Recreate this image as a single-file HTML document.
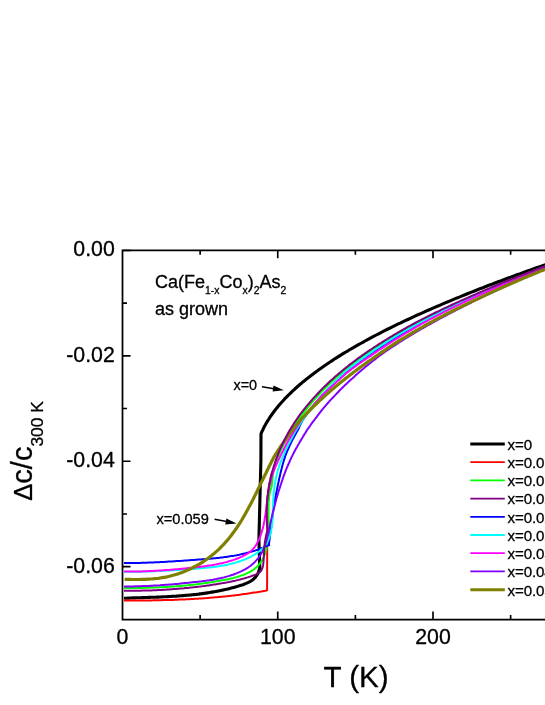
<!DOCTYPE html>
<html><head><meta charset="utf-8"><title>chart</title>
<style>
html,body{margin:0;padding:0;background:#fff;overflow:hidden}
body{width:545px;height:705px}
svg{display:block;will-change:transform;font-family:"Liberation Sans",sans-serif;fill:#000}
text{stroke:#000;stroke-width:.3px;stroke-linejoin:round}
</style></head><body>
<svg width="545" height="705" viewBox="0 0 545 705">
<rect width="545" height="705" fill="#fff"/>
<g>
<path d="M124.0 598.3L125.2 598.2L126.5 598.2L127.7 598.1L128.9 598.1L130.1 598.0L131.3 598.0L132.5 597.9L133.8 597.9L135.0 597.9L136.2 597.8L137.4 597.8L138.7 597.7L139.9 597.7L141.1 597.7L142.3 597.6L143.5 597.6L144.8 597.5L146.0 597.5L147.2 597.5L148.5 597.4L149.7 597.4L150.9 597.3L152.1 597.3L153.4 597.2L154.6 597.2L155.8 597.2L157.1 597.1L158.3 597.1L159.5 597.0L160.8 597.0L162.0 596.9L163.2 596.8L164.4 596.8L165.7 596.7L166.9 596.7L168.1 596.6L169.4 596.5L170.6 596.5L171.8 596.4L173.1 596.3L174.3 596.3L175.5 596.2L176.8 596.1L178.0 596.0L179.2 595.9L180.4 595.8L181.7 595.7L182.9 595.6L184.1 595.5L185.4 595.4L186.6 595.3L187.8 595.2L189.0 595.1L190.3 595.0L191.5 594.9L192.7 594.8L193.9 594.6L195.1 594.5L196.4 594.4L197.6 594.2L198.8 594.1L200.0 593.9L201.2 593.8L202.4 593.6L203.7 593.4L204.9 593.3L206.1 593.1L207.3 592.9L208.5 592.7L209.7 592.5L210.9 592.3L212.1 592.1L213.3 591.9L214.5 591.7L215.7 591.5L216.9 591.3L218.1 591.1L219.3 590.8L220.5 590.6L221.7 590.3L222.9 590.1L224.1 589.8L225.3 589.5L226.5 589.3L227.7 589.0L228.8 588.7L230.0 588.4L231.2 588.1L232.4 587.8L233.6 587.5L234.7 587.2L235.9 586.8L237.1 586.5L238.2 586.1L239.4 585.8L240.6 585.4L241.7 585.1L242.9 584.7L244.0 584.3L245.1 583.8L246.2 583.4L247.3 582.9L248.4 582.4L249.4 581.9L250.5 581.3L251.4 580.7L252.4 580.0L253.3 579.3L254.1 578.5L255.0 577.7L255.7 576.8L256.4 575.9L257.1 574.9L257.7 573.8L258.3 572.7L258.7 571.5L259.1 570.2L259.5 568.8L259.8 567.3L258.9 540.0L260.9 460.0L261.0 433.5L261.2 433.3L261.3 433.2L261.4 432.9L261.6 432.4L261.8 431.9L262.1 431.2L262.5 430.5L262.9 429.7L263.3 428.8L263.7 427.9L264.2 426.9L264.8 425.9L265.3 424.9L265.9 423.8L266.6 422.7L267.2 421.6L267.9 420.4L268.7 419.3L269.4 418.1L270.2 416.9L271.0 415.7L271.9 414.5L272.8 413.2L273.7 412.0L274.6 410.8L275.6 409.5L276.6 408.3L277.6 407.0L278.6 405.8L279.7 404.5L280.8 403.2L281.9 402.0L283.1 400.7L284.2 399.4L285.4 398.2L286.7 396.9L287.9 395.6L289.2 394.4L290.5 393.1L291.8 391.8L293.1 390.6L294.5 389.3L295.9 388.0L297.3 386.8L298.8 385.5L300.2 384.2L301.7 383.0L303.2 381.7L304.8 380.5L306.3 379.2L307.9 378.0L309.5 376.7L311.1 375.5L312.8 374.2L314.4 373.0L316.1 371.7L317.8 370.5L319.5 369.2L321.3 368.0L323.1 366.7L324.9 365.5L326.7 364.3L328.5 363.0L330.4 361.8L332.2 360.6L334.1 359.3L336.0 358.1L338.0 356.9L339.9 355.6L341.9 354.4L343.9 353.2L345.9 352.0L348.0 350.8L350.0 349.5L352.1 348.3L354.2 347.1L356.3 345.9L358.5 344.7L360.6 343.5L362.8 342.3L365.0 341.0L367.2 339.8L369.5 338.6L371.7 337.4L374.0 336.2L376.3 335.0L378.6 333.8L380.9 332.6L383.3 331.4L385.6 330.2L388.0 329.0L390.4 327.8L392.8 326.6L395.3 325.4L397.7 324.2L400.2 323.1L402.7 321.9L405.2 320.7L407.8 319.5L410.3 318.3L412.9 317.1L415.5 315.9L418.1 314.7L420.7 313.6L423.4 312.4L426.0 311.2L428.7 310.0L431.4 308.8L434.1 307.6L436.8 306.5L439.6 305.3L442.3 304.1L445.1 302.9L447.9 301.8L450.7 300.6L453.6 299.4L456.4 298.2L459.3 297.1L462.2 295.9L465.1 294.7L468.0 293.5L470.9 292.4L473.9 291.2L476.9 290.0L479.9 288.8L482.9 287.7L485.9 286.5L488.9 285.3L492.0 284.2L495.1 283.0L498.2 281.8L501.3 280.7L504.4 279.5L507.5 278.3L510.7 277.2L513.9 276.0L517.0 274.8L520.3 273.7L523.5 272.5L526.7 271.3L530.0 270.2L533.2 269.0L536.5 267.8L539.8 266.7L543.2 265.5L546.5 264.3L549.8 263.2L553.2 262.0L556.6 260.8L560.0 259.7" fill="none" stroke="#000000" stroke-width="3.1" stroke-linejoin="round"/>
<path d="M124.0 600.5L125.4 600.5L126.9 600.5L128.3 600.5L129.8 600.5L131.2 600.5L132.7 600.5L134.1 600.5L135.6 600.5L137.0 600.5L138.5 600.5L139.9 600.5L141.4 600.5L142.8 600.5L144.3 600.5L145.7 600.4L147.2 600.4L148.6 600.4L150.1 600.4L151.5 600.4L153.0 600.3L154.4 600.3L155.9 600.3L157.3 600.3L158.8 600.2L160.2 600.2L161.7 600.2L163.1 600.1L164.6 600.1L166.0 600.1L167.5 600.0L168.9 600.0L170.3 599.9L171.8 599.9L173.2 599.9L174.7 599.8L176.1 599.7L177.6 599.7L179.0 599.6L180.5 599.6L181.9 599.5L183.4 599.4L184.8 599.4L186.3 599.3L187.7 599.2L189.2 599.2L190.6 599.1L192.1 599.0L193.5 598.9L195.0 598.8L196.4 598.8L197.8 598.7L199.3 598.6L200.7 598.5L202.2 598.4L203.6 598.3L205.1 598.2L206.5 598.1L208.0 597.9L209.4 597.8L210.8 597.7L212.3 597.6L213.7 597.5L215.2 597.3L216.6 597.2L218.1 597.1L219.5 596.9L220.9 596.8L222.4 596.7L223.8 596.5L225.3 596.4L226.7 596.2L228.1 596.1L229.6 595.9L231.0 595.7L232.5 595.6L233.9 595.4L235.3 595.2L236.8 595.1L238.2 594.9L239.6 594.7L241.1 594.5L242.5 594.3L243.9 594.1L245.4 593.9L246.8 593.7L248.2 593.5L249.7 593.3L251.1 593.1L252.5 592.8L254.0 592.6L255.4 592.4L256.8 592.2L258.3 591.9L259.7 591.7L261.1 591.4L262.6 591.2L264.0 590.9L265.4 590.7L266.8 590.4L267.1 590.3L267.2 545.0L267.6 508.0L266.9 505.9L267.0 503.7L267.1 501.5L267.3 499.3L267.5 497.1L267.8 494.9L268.0 492.7L268.3 490.5L268.7 488.4L269.0 486.2L269.4 484.1L269.8 481.9L270.3 479.8L270.7 477.7L271.2 475.6L271.7 473.5L272.3 471.5" fill="none" stroke="#ff0000" stroke-width="2.0" stroke-linejoin="round"/>
<path d="M272.3 472.0L272.9 469.9L273.5 467.9L274.1 465.8L274.8 463.8L275.4 461.8L276.1 459.8L276.9 457.8L277.6 455.8L278.4 453.8L279.2 451.8L280.0 449.9L280.9 447.9L281.8 446.0L282.7 444.1L283.6 442.2L284.5 440.3L285.5 438.4L286.5 436.6L287.5 434.7L288.5 432.8L289.5 431.0L290.6 429.2L291.7 427.4L292.8 425.7L293.9 423.9L295.1 422.2L296.2 420.5L297.4 418.8L298.6 417.1L299.8 415.4L301.1 413.7L302.3 412.1L303.6 410.4L304.9 408.8L306.2 407.2L307.5 405.6L308.9 404.0L310.2 402.4L311.6 400.8L313.0 399.2L314.4 397.6L315.8 396.1L317.3 394.5L318.7 393.0L320.2 391.4L321.6 389.9L323.1 388.4L324.6 386.9L326.2 385.5L327.7 384.0L329.2 382.5L330.8 381.1L332.4 379.7L334.0 378.2L335.5 376.8L337.2 375.4L338.8 374.1L340.4 372.7L342.1 371.3L343.7 370.0L345.4 368.6L347.1 367.3L348.7 365.9L350.4 364.6L352.2 363.3L353.9 362.0L355.6 360.7L357.3 359.4L359.1 358.1L360.9 356.9L362.6 355.6L364.4 354.4L366.2 353.1L368.0 351.9L369.8 350.7L371.6 349.5L373.4 348.2L375.3 347.0L377.1 345.9L378.9 344.7L380.8 343.5L382.6 342.3L384.5 341.2L386.4 340.0L388.3 338.8L390.1 337.7L392.0 336.6L393.9 335.4L395.8 334.3L397.7 333.2L399.6 332.1L401.6 331.0L403.5 329.9L405.4 328.8L407.3 327.7L409.3 326.6L411.2 325.6L413.2 324.5L415.1 323.5L417.1 322.4L419.0 321.4L421.0 320.4L422.9 319.4L424.9 318.4L426.9 317.4L428.8 316.4L430.8 315.4L432.8 314.4L434.7 313.5L436.7 312.5L438.7 311.6L440.7 310.6L442.7 309.7L444.6 308.7L446.6 307.8L448.6 306.9L450.6 306.0L452.6 305.0L454.6 304.1L456.5 303.2L458.5 302.3L460.5 301.4L462.5 300.5L464.5 299.7L466.5 298.8L468.5 297.9L470.5 297.0L472.5 296.1L474.5 295.3L476.5 294.4L478.4 293.5L480.4 292.7L482.4 291.8L484.4 290.9L486.4 290.1L488.4 289.2L490.4 288.4L492.4 287.5L494.4 286.7L496.4 285.9L498.3 285.0L500.3 284.2L502.3 283.4L504.3 282.6L506.3 281.8L508.3 281.0L510.3 280.2L512.2 279.4L514.2 278.7L516.2 277.9L518.2 277.1L520.1 276.3L522.1 275.5L524.1 274.8L526.0 274.0L528.0 273.2L530.0 272.4L531.9 271.7L533.9 270.9L535.9 270.1L537.8 269.4L539.8 268.6L541.7 267.8L543.7 267.1L545.6 266.3L547.5 265.6L549.5 264.8L551.4 264.0L553.3 263.3L555.3 262.5L557.2 261.8L559.1 261.0" fill="none" stroke="#ff0000" stroke-width="1.0" stroke-linejoin="round"/>
<path d="M124.0 588.1L125.4 588.1L126.7 588.1L128.1 588.1L129.5 588.1L130.8 588.0L132.2 588.0L133.6 588.0L135.0 588.0L136.4 588.0L137.8 588.0L139.2 587.9L140.6 587.9L142.0 587.9L143.4 587.8L144.7 587.8L146.1 587.8L147.5 587.7L149.0 587.7L150.4 587.6L151.8 587.6L153.2 587.5L154.6 587.5L156.0 587.4L157.4 587.4L158.8 587.3L160.2 587.3L161.6 587.2L162.9 587.1L164.3 587.1L165.7 587.0L167.1 586.9L168.5 586.8L169.9 586.7L171.3 586.6L172.6 586.5L174.0 586.4L175.4 586.3L176.8 586.2L178.1 586.1L179.5 586.0L180.9 585.9L182.2 585.8L183.6 585.7L184.9 585.5L186.3 585.4L187.7 585.3L189.0 585.1L190.4 585.0L191.8 584.8L193.1 584.7L194.5 584.5L195.8 584.4L197.2 584.2L198.6 584.0L199.9 583.8L201.3 583.7L202.7 583.5L204.1 583.3L205.4 583.1L206.8 582.9L208.2 582.7L209.6 582.5L211.0 582.3L212.4 582.0L213.8 581.8L215.2 581.6L216.6 581.3L218.0 581.1L219.4 580.8L220.8 580.6L222.2 580.3L223.7 580.1L225.1 579.8L226.5 579.5L227.9 579.2L229.4 578.9L230.8 578.6L232.2 578.2L233.6 577.9L235.0 577.5L236.4 577.2L237.7 576.8L239.1 576.3L240.4 575.9L241.8 575.4L243.1 575.0L244.3 574.5L245.6 573.9L246.8 573.4L248.0 572.8L249.2 572.2L250.4 571.6L251.5 570.9L252.6 570.2L253.6 569.5L254.7 568.7L255.7 567.9L256.6 567.1L257.5 566.2L258.4 565.3L259.2 564.4L260.0 563.4L260.7 562.4L261.4 561.3L262.1 560.3L262.7 559.1L263.3 558.0L263.8 556.8L264.3 555.6L264.8 554.4L265.2 553.1L265.6 551.8L266.0 550.5L266.3 549.2L266.6 547.8L266.9 546.5L267.2 545.1L267.4 543.7L267.6 542.3L267.8 540.8L267.9 539.4L268.1 538.0L268.2 536.5L268.3 535.1L268.4 533.6L268.4 532.2L268.5 530.7L268.5 529.2L268.5 527.8L268.5 526.3L268.6 524.9L268.5 523.4L268.5 522.0L268.5 520.5L268.5 519.1L268.5 517.6L268.5 516.2L268.5 514.7L268.5 513.3L268.4 511.9L268.5 510.5L268.5 509.1L268.5 507.7L268.5 506.3L268.6 504.9L268.6 503.5L268.7 502.1L268.8 500.8L268.9 499.4L269.1 498.1L269.2 496.7L269.4 495.4L269.6 494.1L269.9 492.8L270.2 491.5L270.5 490.2L270.8 488.9L271.2 487.7L271.6 486.4L273.5 469.9L274.1 467.8L274.8 465.8L275.4 463.8L276.1 461.8L276.9 459.8L277.6 457.9L278.4 455.9L279.2 454.0L280.0 452.0L280.9 450.1L281.8 448.2L282.7 446.3L283.6 444.4L284.5 442.5L285.5 440.7L286.5 438.8L287.5 437.0L288.5 435.1L289.5 433.3L290.6 431.5L291.7 429.8L292.8 428.0L293.9 426.3L295.1 424.6L296.2 422.9L297.4 421.2L298.6 419.5L299.8 417.9L301.1 416.2L302.3 414.5L303.6 412.8L304.9 411.1L306.2 409.4L307.5 407.8L308.9 406.1L310.2 404.5L311.6 402.8L313.0 401.2L314.4 399.6L315.8 398.0L317.3 396.4L318.7 394.8L320.2 393.2L321.6 391.6L323.1 390.1L324.6 388.5L326.2 387.0L327.7 385.4L329.2 383.9L330.8 382.4L332.4 380.9L334.0 379.5L335.5 378.0L337.2 376.5L338.8 375.1L340.4 373.7L342.1 372.2L343.7 370.8L345.4 369.4L347.1 368.1L348.7 366.7L350.4 365.4L352.2 364.1L353.9 362.8L355.6 361.4L357.3 360.2L359.1 358.9L360.9 357.6L362.6 356.3L364.4 355.1L366.2 353.8L368.0 352.6L369.8 351.3L371.6 350.1L373.4 348.9L375.3 347.7L377.1 346.5L378.9 345.3L380.8 344.1L382.6 342.9L384.5 341.8L386.4 340.6L388.3 339.4L390.1 338.3L392.0 337.1L393.9 336.0L395.8 334.8L397.7 333.7L399.6 332.6L401.6 331.5L403.5 330.4L405.4 329.3L407.3 328.2L409.3 327.1L411.2 326.0L413.2 324.9L415.1 323.9L417.1 322.8L419.0 321.8L421.0 320.7L422.9 319.7L424.9 318.7L426.9 317.7L428.8 316.7L430.8 315.7L432.8 314.7L434.7 313.7L436.7 312.8L438.7 311.8L440.7 310.8L442.7 309.9L444.6 308.9L446.6 308.0L448.6 307.1L450.6 306.1L452.6 305.2L454.6 304.3L456.5 303.4L458.5 302.4L460.5 301.5L462.5 300.6L464.5 299.7L466.5 298.9L468.5 298.0L470.5 297.1L472.5 296.2L474.5 295.3L476.5 294.4L478.4 293.6L480.4 292.7L482.4 291.8L484.4 291.0L486.4 290.1L488.4 289.3L490.4 288.4L492.4 287.6L494.4 286.7L496.4 285.9L498.3 285.0L500.3 284.2L502.3 283.4L504.3 282.6L506.3 281.8L508.3 281.0L510.3 280.2L512.2 279.4L514.2 278.6L516.2 277.8L518.2 277.0L520.1 276.2L522.1 275.4L524.1 274.7L526.0 273.9L528.0 273.1L530.0 272.3L531.9 271.6L533.9 270.8L535.9 270.0L537.8 269.2L539.8 268.5L541.7 267.7L543.7 266.9L545.6 266.2L547.5 265.4L549.5 264.6L551.4 263.9L553.3 263.1L555.3 262.3L557.2 261.6L559.1 260.8" fill="none" stroke="#00ff00" stroke-width="2.0" stroke-linejoin="round"/>
<path d="M124.0 563.1L125.4 563.1L126.7 563.1L128.0 563.1L129.4 563.1L130.7 563.0L132.1 563.0L133.4 563.0L134.8 563.0L136.1 563.0L137.4 562.9L138.8 562.9L140.1 562.9L141.5 562.8L142.8 562.8L144.2 562.8L145.5 562.7L146.9 562.7L148.2 562.6L149.6 562.6L150.9 562.5L152.3 562.5L153.6 562.4L155.0 562.3L156.3 562.3L157.7 562.2L159.0 562.2L160.4 562.1L161.7 562.0L163.1 561.9L164.4 561.9L165.8 561.8L167.1 561.7L168.5 561.6L169.8 561.6L171.2 561.5L172.5 561.4L173.8 561.3L175.2 561.2L176.5 561.1L177.9 561.0L179.2 561.0L180.6 560.9L181.9 560.8L183.3 560.7L184.6 560.6L186.0 560.5L187.3 560.4L188.7 560.3L190.0 560.2L191.4 560.1L192.7 560.0L194.1 559.9L195.4 559.8L196.7 559.7L198.1 559.6L199.4 559.5L200.8 559.4L202.1 559.3L203.5 559.2L204.8 559.1L206.1 559.0L207.5 558.9L208.8 558.8L210.2 558.7L211.5 558.6L212.8 558.4L214.2 558.3L215.5 558.2L216.8 558.0L218.2 557.9L219.5 557.8L220.8 557.6L222.1 557.4L223.5 557.3L224.8 557.1L226.1 556.9L227.5 556.7L228.8 556.5L230.1 556.3L231.4 556.1L232.7 555.9L234.1 555.7L235.4 555.4L236.7 555.2L238.0 554.9L239.3 554.7L240.6 554.4L242.0 554.1L243.3 553.8L244.6 553.5L245.9 553.2L247.2 552.8L248.5 552.5L249.8 552.1L251.1 551.8L252.4 551.4L253.7 551.0L255.0 550.6L256.3 550.1L257.6 549.7L258.9 549.2L260.2 548.8L261.5 548.3L262.8 547.8L264.0 547.3L265.3 546.8L266.6 546.2L267.9 545.6L269.2 545.1L268.9 544.9L269.1 542.7L269.4 540.5L269.7 538.3L270.0 536.1L270.2 533.9L270.5 531.7L270.8 529.5L271.1 527.3L271.3 525.1L271.6 522.9L271.9 520.7L272.2 518.5L272.5 516.3L272.8 514.1L273.1 511.9L273.5 509.7L273.8 507.5L274.1 505.3L274.5 503.1L274.9 500.9L275.2 498.7L275.6 496.5L276.0 494.4L276.4 492.2L276.9 490.0L277.3 487.8L277.8 485.6L278.2 483.5L278.7 481.3L279.1 479.2L279.6 477.0L280.1 474.9L280.6 472.7L281.1 470.6L281.7 468.5L282.2 466.3L282.8 464.2L283.4 462.1L284.0 460.0L284.7 457.9L285.4 455.8L286.1 453.8L287.0 451.7L287.9 449.6L288.8 447.6L289.7 445.6L290.6 443.5L291.6 441.5L292.6 439.5L293.7 437.5L294.8 435.5L295.9 433.5L297.0 431.6L298.1 429.6L299.0 427.7L299.8 425.8L300.8 423.9L301.7 422.0L302.7 420.1L303.9 418.4L305.3 416.4L306.7 414.4L308.2 412.4L309.7 410.4L311.1 408.5L312.6 406.7L314.1 404.8L315.7 402.9L317.2 401.1L318.7 399.2L320.2 397.4L321.6 395.8L323.1 394.2L324.6 392.6L326.2 391.0L327.7 389.4L329.2 387.8L330.8 386.2L332.4 384.7L334.0 383.1L335.5 381.6L337.2 380.1L338.8 378.6L340.4 377.0L342.1 375.6L343.7 374.1L345.4 372.6L347.1 371.2L348.7 369.9L350.4 368.5L352.2 367.2L353.9 365.8L355.6 364.5L357.3 363.2L359.1 361.9L360.9 360.6L362.6 359.3L364.4 358.0L366.2 356.7L368.0 355.4L369.8 354.2L371.6 352.9L373.4 351.7L375.3 350.5L377.1 349.2L378.9 348.0L380.8 346.8L382.6 345.6L384.5 344.4L386.4 343.2L388.3 342.0L390.1 340.9L392.0 339.7L393.9 338.5L395.8 337.4L397.7 336.2L399.6 335.1L401.6 333.9L403.5 332.8L405.4 331.6L407.3 330.5L409.3 329.3L411.2 328.2L413.2 327.1L415.1 326.0L417.1 324.9L419.0 323.8L421.0 322.7L422.9 321.6L424.9 320.5L426.9 319.5L428.8 318.4L430.8 317.4L432.8 316.4L434.7 315.4L436.7 314.5L438.7 313.5L440.7 312.5L442.7 311.5L444.6 310.6L446.6 309.6L448.6 308.7L450.6 307.8L452.6 306.8L454.6 305.9L456.5 305.0L458.5 304.0L460.5 303.1L462.5 302.2L464.5 301.3L466.5 300.4L468.5 299.5L470.5 298.6L472.5 297.7L474.5 296.8L476.5 295.9L478.4 295.0L480.4 294.1L482.4 293.2L484.4 292.4L486.4 291.5L488.4 290.6L490.4 289.7L492.4 288.9L494.4 288.0L496.4 287.1L498.3 286.3L500.3 285.4L502.3 284.6L504.3 283.8L506.3 283.0L508.3 282.1L510.3 281.3L512.2 280.5L514.2 279.7L516.2 278.9L518.2 278.1L520.1 277.3L522.1 276.5L524.1 275.7L526.0 274.9L528.0 274.1L530.0 273.3L531.9 272.5L533.9 271.7L535.9 270.9L537.8 270.1L539.8 269.3L541.7 268.6L543.7 267.8L545.6 267.0L547.5 266.2L549.5 265.4L551.4 264.6L553.3 263.9L555.3 263.1L557.2 262.3L559.1 261.5" fill="none" stroke="#0000ff" stroke-width="2.0" stroke-linejoin="round"/>
<path d="M124.0 571.8L125.5 571.8L126.9 571.8L128.3 571.8L129.7 571.8L131.2 571.8L132.6 571.8L134.0 571.8L135.5 571.8L136.9 571.7L138.3 571.7L139.8 571.7L141.2 571.7L142.6 571.6L144.1 571.6L145.5 571.5L147.0 571.5L148.4 571.5L149.8 571.4L151.3 571.4L152.7 571.3L154.2 571.2L155.6 571.2L157.1 571.1L158.5 571.1L159.9 571.0L161.4 570.9L162.8 570.8L164.3 570.8L165.7 570.7L167.2 570.6L168.6 570.5L170.0 570.4L171.5 570.4L172.9 570.3L174.4 570.2L175.8 570.1L177.3 570.0L178.7 569.9L180.1 569.8L181.6 569.7L183.0 569.6L184.5 569.5L185.9 569.4L187.3 569.3L188.8 569.2L190.2 569.1L191.7 569.0L193.1 568.9L194.5 568.8L196.0 568.7L197.4 568.6L198.8 568.4L200.3 568.3L201.7 568.2L203.1 568.1L204.6 568.0L206.0 567.8L207.4 567.7L208.8 567.5L210.3 567.4L211.7 567.2L213.1 567.0L214.5 566.9L216.0 566.7L217.4 566.5L218.8 566.2L220.2 566.0L221.6 565.8L223.0 565.5L224.4 565.3L225.9 565.0L227.3 564.7L228.7 564.4L230.1 564.0L231.5 563.7L232.9 563.3L234.3 563.0L235.7 562.6L237.1 562.1L238.5 561.7L239.8 561.2L241.2 560.8L242.6 560.3L244.0 559.7L245.4 559.2L246.7 558.6L248.1 558.0L249.4 557.4L250.7 556.8L252.0 556.1L253.2 555.4L254.5 554.7L255.7 553.9L256.8 553.1L258.0 552.3L259.1 551.5L260.2 550.6L261.2 549.7L262.2 548.8L263.1 547.8L264.0 546.8L264.8 545.8L265.6 544.7L266.3 543.7L267.0 542.5L267.6 541.4L268.2 540.2L268.7 539.0L269.2 537.7L269.7 536.5L270.1 535.2L270.4 533.9L270.8 532.5L271.1 531.2L271.3 529.8L271.6 528.4L271.8 527.0L272.0 525.6L272.1 524.1L272.3 522.7L272.4 521.2L272.5 519.7L272.6 518.2L272.6 516.7L272.7 515.2L272.8 513.7L272.8 512.2L272.9 510.7L272.9 509.2L272.9 507.7L273.0 506.1L273.0 504.6L273.1 503.1L273.2 501.6L273.2 500.1L273.3 498.6L273.4 497.1L273.5 495.6L273.6 494.2L273.8 492.7L273.9 491.2L274.1 489.8L274.3 488.3L274.5 486.9L274.7 485.5L274.9 484.0L275.1 482.6L275.4 481.2L275.6 479.8L275.9 478.4L276.2 477.0L276.5 475.6L276.9 474.2L277.2 472.8L277.5 471.5L277.9 470.1L278.3 468.7L278.8 467.4L279.2 466.0L279.7 464.7L280.1 463.3L280.6 462.0L281.1 460.7L281.7 459.3L282.2 458.0L282.8 456.7L283.3 455.4L283.9 454.1L284.4 452.8L285.0 451.5L285.6 450.2L286.2 448.9L286.8 447.6L287.5 446.3L288.1 445.0L288.8 443.7L289.5 442.5L290.2 441.2L290.9 439.9L293.8 434.3L294.8 432.4L296.0 430.5L297.1 428.6L298.3 426.8L299.5 424.9L300.7 423.0L302.0 421.1L303.3 419.2L304.6 417.3L306.0 415.4L307.4 413.6L308.9 411.7L310.3 409.8L311.8 408.0L313.2 406.1L314.7 404.2L316.2 402.4L317.7 400.6L319.2 398.7L320.7 396.9L322.3 395.2L323.8 393.5L325.3 391.8L326.9 390.1L328.5 388.5L330.1 386.8L331.7 385.2L333.3 383.5L334.9 381.9L336.5 380.3L338.2 378.7L339.8 377.1L341.4 375.5L343.1 373.9L344.7 372.3L346.4 370.8L348.1 369.5L349.7 368.1L351.4 366.8L353.2 365.5L354.9 364.2L356.6 362.9L358.3 361.6L360.1 360.3L361.8 359.1L363.5 357.8L365.2 356.6L367.0 355.3L368.7 354.1L370.4 352.9L372.2 351.6L373.9 350.4L375.7 349.2L377.5 348.0L379.3 346.8L381.1 345.6L382.9 344.5L384.7 343.3L386.5 342.1L388.3 340.9L390.1 339.8L392.0 338.6L393.9 337.5L395.8 336.3L397.7 335.2L399.6 334.1L401.6 333.0L403.5 331.8L405.4 330.7L407.3 329.6L409.3 328.5L411.2 327.5L413.2 326.4L415.1 325.3L417.1 324.3L419.0 323.2L421.0 322.2L422.9 321.1L424.9 320.1L426.9 319.1L428.8 318.1L430.8 317.1L432.8 316.1L434.7 315.1L436.7 314.1L438.7 313.1L440.7 312.2L442.7 311.2L444.6 310.2L446.6 309.3L448.6 308.3L450.6 307.4L452.6 306.4L454.6 305.5L456.5 304.6L458.5 303.7L460.5 302.7L462.5 301.8L464.5 300.9L466.5 300.0L468.5 299.1L470.5 298.2L472.5 297.3L474.5 296.4L476.5 295.5L478.4 294.6L480.4 293.8L482.4 292.9L484.4 292.0L486.4 291.1L488.4 290.3L490.4 289.4L492.4 288.5L494.4 287.7L496.4 286.8L498.3 286.0L500.3 285.1L502.3 284.3L504.3 283.5L506.3 282.7L508.3 281.8L510.3 281.0L512.2 280.2L514.2 279.4L516.2 278.6L518.2 277.8L520.1 277.0L522.1 276.2L524.1 275.4L526.0 274.6L528.0 273.8L530.0 273.0L531.9 272.2L533.9 271.5L535.9 270.7L537.8 269.9L539.8 269.1L541.7 268.3L543.7 267.5L545.6 266.8L547.5 266.0L549.5 265.2L551.4 264.4L553.3 263.6L555.3 262.9L557.2 262.1L559.1 261.3" fill="none" stroke="#00ffff" stroke-width="2.0" stroke-linejoin="round"/>
<path d="M124.1 571.6L125.4 571.6L126.8 571.6L128.2 571.6L129.5 571.6L130.9 571.6L132.3 571.6L133.7 571.6L135.1 571.5L136.4 571.5L137.8 571.5L139.2 571.5L140.6 571.4L142.0 571.4L143.4 571.3L144.8 571.3L146.2 571.2L147.6 571.2L149.0 571.1L150.4 571.0L151.8 571.0L153.2 570.9L154.6 570.8L156.0 570.7L157.4 570.7L158.8 570.6L160.2 570.5L161.6 570.4L163.0 570.3L164.4 570.2L165.8 570.1L167.2 570.0L168.6 569.9L170.0 569.8L171.4 569.7L172.8 569.5L174.2 569.4L175.6 569.3L177.0 569.2L178.4 569.1L179.8 568.9L181.2 568.8L182.6 568.7L184.0 568.5L185.4 568.4L186.8 568.2L188.2 568.1L189.6 568.0L190.9 567.8L192.3 567.7L193.7 567.5L195.1 567.4L196.5 567.2L197.9 567.0L199.3 566.9L200.6 566.7L202.0 566.5L203.4 566.4L204.8 566.2L206.1 566.0L207.5 565.8L208.9 565.6L210.2 565.4L211.6 565.2L212.9 564.9L214.3 564.7L215.6 564.5L217.0 564.2L218.3 563.9L219.7 563.6L221.0 563.4L222.4 563.1L223.7 562.7L225.0 562.4L226.3 562.1L227.7 561.7L229.0 561.3L230.3 560.9L231.6 560.5L232.9 560.1L234.2 559.6L235.5 559.2L236.8 558.7L238.1 558.2L239.4 557.7L240.7 557.1L241.9 556.6L243.2 556.0L244.4 555.3L245.6 554.7L246.8 554.0L248.0 553.3L249.1 552.5L250.2 551.7L251.2 550.8L252.2 549.9L253.2 548.9L254.0 547.8L254.9 546.8L255.7 545.6L256.4 544.5L257.1 543.3L257.7 542.0L258.4 540.8L258.9 539.5L259.5 538.2L260.0 536.9L260.5 535.6L261.0 534.3L261.4 533.0L261.8 531.7L262.2 530.3L262.6 529.0L262.9 527.7L263.3 526.3L263.6 525.0L263.8 523.6L264.1 522.3L264.4 520.9L264.6 519.5L264.8 518.2L265.1 516.8L265.3 515.4L265.5 514.0L265.7 512.7L265.8 511.3L266.0 509.9L266.2 508.5L266.4 507.1L266.5 505.7L266.7 504.3L266.9 502.9L267.1 501.5L267.2 500.1L267.4 498.7L267.6 497.3L267.8 495.9L268.0 494.5L268.2 493.2L268.4 491.8L268.7 490.4L268.9 489.0L269.2 487.6L269.4 486.2L269.7 484.8L270.0 483.5L270.4 482.1L270.7 480.7L271.1 479.3L271.5 478.0L271.9 476.6L272.3 475.3L272.8 473.9L273.2 472.6L273.7 471.2L274.2 469.9L274.8 468.6L275.3 467.2L275.8 465.9L276.4 464.6L277.0 463.3L277.6 462.0L278.1 460.7L278.7 459.4L279.4 458.2L280.0 456.9L280.6 455.6L281.2 454.4L281.8 453.1L282.4 451.9L283.1 450.7L283.7 449.5L284.3 448.3L284.9 447.1L285.5 445.9L286.1 444.7L286.7 443.6L287.3 442.4L287.9 441.3L288.5 440.2L291.5 435.4L292.5 433.7L293.6 431.9L294.7 430.2L295.8 428.5L296.9 426.8L298.0 425.1L299.1 423.4L300.3 421.6L301.4 419.8L302.8 418.1L304.2 416.3L305.6 414.5L307.0 412.8L308.4 411.1L309.8 409.4L311.3 407.6L312.7 405.9L314.2 404.2L315.7 402.5L317.2 400.8L318.8 399.1L320.4 397.4L322.0 395.8L323.6 394.2L325.3 392.6L326.9 391.0L328.6 389.4L330.3 387.8L332.0 386.2L333.7 384.7L335.4 383.1L337.1 381.6L338.9 380.1L340.4 378.6L342.1 377.0L343.7 375.6L345.3 374.1L346.9 372.6L348.6 371.4L350.2 370.1L351.9 368.8L353.6 367.6L355.3 366.4L357.0 365.1L358.7 363.9L360.5 362.7L362.2 361.5L363.9 360.3L365.7 359.1L367.4 358.0L369.2 356.8L371.0 355.7L372.7 354.4L374.5 353.2L376.3 351.9L378.1 350.7L379.9 349.5L381.7 348.3L383.6 347.1L385.4 345.9L387.2 344.7L389.1 343.5L390.9 342.3L392.8 341.1L394.6 339.9L396.5 338.8L398.4 337.6L400.3 336.5L402.2 335.3L404.1 334.2L406.0 333.0L408.0 331.8L409.9 330.7L411.8 329.6L413.7 328.4L415.7 327.3L417.6 326.2L419.6 325.1L421.5 324.0L423.5 322.9L425.4 321.9L427.4 320.8L429.3 319.7L431.3 318.7L433.2 317.7L435.2 316.6L437.1 315.6L439.1 314.6L441.0 313.6L443.0 312.6L444.9 311.6L446.9 310.6L448.8 309.6L450.8 308.6L452.8 307.7L454.7 306.7L456.7 305.7L458.6 304.8L460.6 303.8L462.6 302.9L464.5 302.0L466.5 301.0L468.5 300.1L470.5 299.2L472.5 298.3L474.5 297.3L476.5 296.4L478.4 295.5L480.4 294.6L482.4 293.7L484.4 292.8L486.4 291.9L488.4 291.0L490.4 290.1L492.4 289.2L494.4 288.4L496.4 287.5L498.3 286.7L500.3 285.8L502.3 285.0L504.3 284.2L506.3 283.4L508.3 282.6L510.3 281.8L512.2 281.0L514.2 280.1L516.2 279.3L518.2 278.5L520.1 277.8L522.1 277.0L524.1 276.2L526.0 275.4L528.0 274.6L530.0 273.8L531.9 273.0L533.9 272.2L535.9 271.4L537.8 270.7L539.8 269.9L541.7 269.1L543.7 268.3L545.6 267.5L547.5 266.8L549.5 266.0L551.4 265.2L553.3 264.4L555.3 263.7L557.2 262.9L559.1 262.1" fill="none" stroke="#ff00ff" stroke-width="2.0" stroke-linejoin="round"/>
<path d="M124.1 586.4L125.9 586.4L127.8 586.4L129.7 586.4L131.5 586.4L133.4 586.4L135.3 586.3L137.2 586.3L139.1 586.3L140.9 586.2L142.8 586.1L144.7 586.1L146.6 586.0L148.5 585.9L150.4 585.8L152.3 585.7L154.2 585.6L156.1 585.5L158.1 585.4L160.0 585.3L161.9 585.1L163.8 585.0L165.7 584.8L167.6 584.7L169.5 584.5L171.4 584.4L173.3 584.2L175.3 584.0L177.2 583.9L179.1 583.7L181.0 583.5L182.9 583.3L184.8 583.1L186.7 582.9L188.6 582.7L190.5 582.5L192.4 582.3L194.3 582.1L196.2 581.9L198.0 581.7L199.9 581.5L201.8 581.3L203.7 581.0L205.5 580.8L207.4 580.5L209.3 580.3L211.1 580.0L213.0 579.7L214.8 579.3L216.6 579.0L218.5 578.6L220.3 578.2L222.1 577.8L223.9 577.4L225.7 576.9L227.5 576.4L229.3 575.9L231.1 575.3L232.9 574.7L234.7 574.0L236.4 573.4L238.2 572.6L239.9 571.9L241.7 571.1L243.4 570.2L245.1 569.3L246.7 568.3L248.4 567.3L250.0 566.2L251.5 565.0L253.0 563.7L254.4 562.4L255.8 561.0L257.0 559.5L258.3 558.1L259.4 556.5L260.4 555.0L261.3 553.5L262.2 551.9L263.0 550.3L263.7 548.7L264.4 547.0L265.0 545.4L265.5 543.7L266.0 542.0L266.5 540.3L267.0 538.6L267.4 536.8L267.8 535.1L268.2 533.3L268.6 531.6L268.9 529.8L269.3 528.0L269.7 526.1L270.1 524.3L270.5 522.5L270.9 520.6L271.4 518.8L271.8 516.9L272.2 515.1L272.7 513.2L273.1 511.3L273.6 509.5L274.1 507.6L274.6 505.7L275.1 503.8L275.6 501.9L276.1 500.1L276.6 498.2L277.1 496.4L277.7 494.5L278.2 492.7L278.8 490.8L279.4 489.0L280.0 487.1L280.6 485.3L281.2 483.5L281.8 481.7L282.4 479.8L283.0 478.0L283.6 476.2L284.3 474.5L284.9 472.7L285.6 470.9L286.3 469.2L287.0 467.4L287.8 465.7L288.5 464.0L289.3 462.3L290.0 460.6L290.8 458.8L291.6 457.1L292.5 455.4L293.3 453.7L294.2 452.0L295.1 450.3L296.0 448.6L297.0 447.0L297.9 445.3L298.9 443.7L299.8 442.0L300.8 440.4L301.7 438.8L302.7 437.2L303.6 435.6L304.6 434.0L305.6 432.5L306.5 430.9L307.6 429.3L308.6 427.8L309.7 426.3L310.8 424.7L311.9 423.2L313.0 421.7L314.2 420.2L315.2 418.7L316.3 417.3L317.4 415.8L318.6 414.3L319.7 412.9L320.8 411.4L322.0 410.0L323.1 408.6L324.3 407.2L325.5 405.8L326.7 404.4L327.9 403.0L329.1 401.6L330.3 400.2L331.6 398.9L332.9 397.5L334.3 396.1L335.7 394.6L337.0 393.2L338.4 391.8L339.8 390.3L341.2 388.9L342.6 387.5L344.0 386.1L345.4 384.7L346.8 383.4L348.3 382.1L349.7 380.7L351.1 379.4L352.6 378.2L354.0 376.9L355.4 375.6L356.8 374.3L358.3 373.0L359.7 371.8L361.2 370.5L362.6 369.3L364.1 368.1L365.6 366.8L367.1 365.6L368.5 364.4L370.0 363.2L371.5 362.0L373.1 360.8L374.6 359.6L376.1 358.4L377.7 357.2L379.2 356.0L380.8 354.9L382.4 353.7L383.9 352.6L385.5 351.5L387.1 350.4L388.7 349.4L390.3 348.3L391.9 347.2L393.5 346.2L395.1 345.1L396.7 344.1L398.3 343.0L400.0 342.0L401.6 340.9L403.2 339.9L404.8 338.9L406.5 337.9L408.1 336.9L409.7 335.9L411.4 334.9L413.0 333.9L414.7 332.9L416.3 331.9L418.0 330.9L419.7 330.0L421.3 329.0L423.0 328.0L424.7 327.1L426.4 326.1L428.0 325.2L429.7 324.3L431.4 323.3L433.1 322.4L434.8 321.5L436.5 320.5L438.2 319.6L439.9 318.7L441.6 317.8L443.3 316.9L445.0 316.0L446.7 315.1L448.4 314.2L450.1 313.3L451.8 312.4L453.5 311.5L455.3 310.6L457.0 309.7L458.7 308.8L460.4 308.0L462.1 307.1L463.9 306.2L465.6 305.3L467.3 304.5L469.0 303.6L470.8 302.8L472.5 301.9L474.2 301.1L476.0 300.2L477.7 299.4L479.4 298.5L481.1 297.7L482.9 296.9L484.6 296.1L486.3 295.2L488.0 294.4L489.8 293.6L491.5 292.8L493.2 292.0L494.9 291.2L496.7 290.4L498.4 289.6L500.1 288.8L501.8 288.0L503.6 287.2L505.3 286.4L507.0 285.6L508.7 284.8L510.4 284.0L512.1 283.2L513.8 282.4L515.5 281.6L517.2 280.9L518.9 280.1L520.6 279.3L522.3 278.5L524.0 277.8L525.7 277.0L527.4 276.2L529.1 275.4L530.8 274.7L532.4 273.9L534.1 273.1L535.8 272.4L537.5 271.6L539.1 270.8L540.8 270.1L542.4 269.3L544.1 268.5L545.8 267.8L547.4 267.0L549.0 266.2L550.7 265.5L552.3 264.7L553.9 264.0L555.6 263.2L557.2 262.4L558.8 261.7" fill="none" stroke="#8000ff" stroke-width="2.0" stroke-linejoin="round"/>
<path d="M124.6 579.3L126.5 579.4L128.4 579.4L130.2 579.4L132.1 579.5L134.0 579.5L135.8 579.5L137.7 579.5L139.6 579.5L141.5 579.4L143.4 579.4L145.2 579.3L147.1 579.2L149.0 579.1L150.9 579.0L152.8 578.9L154.6 578.7L156.5 578.5L158.4 578.3L160.2 578.0L162.1 577.7L163.9 577.4L165.8 577.1L167.6 576.7L169.4 576.3L171.3 575.8L173.1 575.3L174.9 574.8L176.7 574.3L178.5 573.7L180.2 573.1L182.0 572.4L183.8 571.8L185.5 571.0L187.2 570.3L189.0 569.5L190.7 568.7L192.4 567.9L194.0 567.0L195.7 566.1L197.3 565.2L199.0 564.3L200.6 563.3L202.2 562.3L203.8 561.3L205.3 560.2L206.9 559.1L208.4 558.0L209.9 556.9L211.4 555.7L212.8 554.6L214.3 553.4L215.7 552.1L217.1 550.9L218.5 549.6L219.8 548.3L221.1 547.0L222.4 545.7L223.7 544.3L225.0 542.9L226.2 541.5L227.4 540.1L228.6 538.7L229.8 537.2L231.0 535.8L232.1 534.3L233.2 532.8L234.3 531.3L235.4 529.7L236.5 528.2L237.5 526.6L238.5 525.1L239.6 523.5L240.6 521.9L241.6 520.3L242.5 518.7L243.5 517.0L244.4 515.4L245.4 513.8L246.3 512.1L247.2 510.4L248.1 508.8L249.0 507.1L249.9 505.4L250.8 503.7L251.7 502.1L252.5 500.4L253.4 498.7L254.2 497.0L255.1 495.3L255.9 493.6L256.8 491.9L257.6 490.1L258.4 488.4L259.3 486.7L260.1 485.0L260.9 483.3L261.7 481.6L262.6 479.9L263.4 478.2L264.2 476.5L265.0 474.9L265.9 473.2L266.7 471.5L267.5 469.8L268.3 468.2L269.1 466.5L270.0 464.8L270.8 463.2L271.6 461.5L272.5 459.9L273.3 458.3L274.2 456.6L275.1 455.0L276.1 453.4L277.2 451.8L278.2 450.2L279.3 448.6L280.3 447.0L281.4 445.4L282.5 443.9L283.6 442.3L284.7 440.8L285.8 439.2L286.9 437.7L287.9 436.2L289.0 434.7L290.0 433.2L291.1 431.7L292.2 430.2L293.4 428.7L294.5 427.3L295.7 425.8L296.9 424.4L298.1 422.9L299.3 421.5L300.6 420.1L301.8 418.7L303.1 417.3L304.4 415.9L305.7 414.5L307.0 413.2L308.3 411.8L309.6 410.5L311.0 409.1L312.3 407.8L313.7 406.4L315.1 405.1L316.4 403.8L317.8 402.5L319.2 401.2L320.6 399.9L322.0 398.7L323.3 397.4L324.7 396.1L326.1 394.9L327.5 393.6L328.9 392.4L330.3 391.2L331.7 389.9L333.1 388.7L334.5 387.5L336.0 386.3L337.4 385.1L338.9 383.9L340.3 382.7L341.8 381.5L343.2 380.4L344.7 379.2L346.2 378.0L347.6 376.9L349.1 375.7L350.6 374.6L352.1 373.5L353.5 372.3L355.0 371.2L356.5 370.1L358.0 369.0L359.5 367.9L361.0 366.8L362.5 365.7L364.1 364.6L365.6 363.5L367.1 362.4L368.6 361.3L370.1 360.3L371.7 359.2L373.2 358.1L374.7 357.1L376.2 356.0L377.7 355.0L379.3 353.9L380.8 352.9L382.3 351.8L383.9 350.8L385.4 349.8L386.9 348.7L388.5 347.7L390.0 346.7L391.6 345.7L393.1 344.7L394.6 343.7L396.2 342.7L397.8 341.7L399.3 340.7L400.9 339.7L402.5 338.7L404.1 337.8L405.7 336.8L407.3 335.8L408.9 334.9L410.6 333.9L412.2 332.9L413.8 332.0L415.4 331.0L417.0 330.1L418.7 329.2L420.3 328.2L421.9 327.3L423.6 326.4L425.2 325.4L426.8 324.5L428.5 323.6L430.1 322.7L431.8 321.8L433.4 320.9L435.1 320.0L436.7 319.1L438.4 318.2L440.0 317.3L441.7 316.4L443.4 315.6L445.1 314.7L446.7 313.8L448.4 313.0L450.1 312.2L451.8 311.3L453.4 310.5L455.1 309.6L456.8 308.8L458.5 308.0L460.2 307.1L461.9 306.3L463.6 305.5L465.3 304.7L467.0 303.9L468.6 303.1L470.3 302.3L472.0 301.4L473.7 300.6L475.4 299.9L477.1 299.1L478.8 298.3L480.5 297.5L482.2 296.7L483.9 295.9L485.6 295.1L487.3 294.3L489.0 293.5L490.7 292.7L492.4 291.9L494.1 291.1L495.8 290.4L497.5 289.6L499.2 288.8L500.9 288.0L502.6 287.3L504.4 286.5L506.1 285.8L507.8 285.0L509.5 284.2L511.2 283.5L513.0 282.7L514.7 282.0L516.4 281.3L518.1 280.5L519.9 279.8L521.6 279.0L523.3 278.3L525.0 277.6L526.8 276.9L528.5 276.1L530.2 275.4L532.0 274.7L533.7 274.0L535.5 273.3L537.2 272.5L538.9 271.8L540.7 271.1L542.4 270.4L544.2 269.7L545.9 269.0L547.7 268.3L549.4 267.6L551.2 266.9L552.9 266.3L554.7 265.6L556.4 264.9L558.2 264.2L559.9 263.5" fill="none" stroke="#808000" stroke-width="3.2" stroke-linejoin="round"/>
<path d="M124.0 590.8L125.3 590.8L126.6 590.8L127.9 590.8L129.2 590.8L130.5 590.8L131.8 590.8L133.1 590.8L134.4 590.8L135.7 590.7L137.0 590.7L138.3 590.7L139.6 590.7L140.9 590.7L142.2 590.6L143.5 590.6L144.8 590.6L146.1 590.5L147.4 590.5L148.7 590.5L150.0 590.4L151.3 590.4L152.6 590.3L153.9 590.3L155.2 590.2L156.5 590.2L157.8 590.1L159.1 590.0L160.4 590.0L161.8 589.9L163.1 589.8L164.4 589.8L165.7 589.7L167.0 589.6L168.3 589.5L169.6 589.4L170.9 589.3L172.2 589.2L173.5 589.1L174.8 589.0L176.1 588.9L177.4 588.8L178.7 588.7L180.0 588.6L181.3 588.5L182.6 588.4L183.9 588.3L185.2 588.1L186.5 588.0L187.8 587.9L189.1 587.7L190.4 587.6L191.7 587.5L193.0 587.3L194.3 587.2L195.6 587.0L196.9 586.9L198.2 586.7L199.5 586.6L200.8 586.4L202.1 586.2L203.4 586.1L204.7 585.9L206.0 585.7L207.2 585.5L208.5 585.4L209.8 585.2L211.1 585.0L212.4 584.8L213.7 584.6L214.9 584.4L216.2 584.2L217.5 584.0L218.8 583.8L220.0 583.6L221.3 583.4L222.6 583.1L223.8 582.9L225.1 582.7L226.4 582.5L227.6 582.2L228.9 582.0L230.2 581.7L231.4 581.5L232.7 581.2L233.9 580.9L235.2 580.7L236.4 580.4L237.7 580.1L238.9 579.8L240.1 579.5L241.4 579.1L242.6 578.8L243.9 578.5L245.1 578.1L246.3 577.7L247.6 577.4L248.8 577.0L250.0 576.6L251.2 576.2L252.4 575.7L253.7 575.3L254.9 574.8L256.1 574.4L257.2 573.8L258.3 573.2L259.3 572.5L260.3 571.7L261.1 570.8L261.7 569.7L262.2 568.5L262.7 567.1L263.0 565.7L263.2 564.3L263.4 562.8L263.5 561.3L263.6 559.8L263.7 558.3L263.8 556.9L263.9 555.5L264.0 554.2L264.0 552.9L264.1 551.6L264.2 550.3L264.2 549.1L264.3 547.8L264.4 546.6L264.5 545.3L264.7 544.1L264.8 542.9L265.0 541.6L265.2 540.4L265.4 539.1L265.6 537.9L265.9 536.6L266.2 535.3L266.5 534.0L266.8 532.6L267.1 531.3L267.5 530.0L267.6 531.1L267.4 528.8L267.2 526.4L267.0 524.1L266.9 521.8L266.8 519.5L266.7 517.2L266.7 514.9L266.7 512.7L266.7 510.4L266.8 508.2L266.9 505.9L267.0 503.7L267.1 501.5L267.3 499.3L267.5 497.1L267.8 494.9L268.0 492.7L268.3 490.5L268.7 488.4L269.0 486.2L269.4 484.1L269.8 481.9L270.3 479.8L270.7 477.7L271.2 475.6L271.7 473.5L272.3 471.5L272.9 469.4L273.5 467.4L274.1 465.3L274.8 463.3L275.4 461.3L276.1 459.3L276.9 457.3L277.6 455.3L278.4 453.3L279.2 451.3L280.0 449.4L280.9 447.4L281.8 445.5L282.7 443.6L283.6 441.7L284.5 439.8L285.5 437.9L286.5 436.1L287.5 434.2L288.5 432.3L289.5 430.5L290.6 428.7L291.7 426.9L292.8 425.2L293.9 423.4L295.1 421.7L296.2 420.0L297.4 418.3L298.6 416.6L299.8 414.9L301.1 413.2L302.3 411.6L303.6 409.9L304.9 408.3L306.2 406.7L307.5 405.1L308.9 403.5L310.2 401.9L311.6 400.3L313.0 398.7L314.4 397.1L315.8 395.6L317.3 394.0L318.7 392.5L320.2 390.9L321.6 389.4L323.1 387.9L324.6 386.4L326.2 385.0L327.7 383.5L329.2 382.0L330.8 380.6L332.4 379.2L334.0 377.7L335.5 376.3L337.2 374.9L338.8 373.6L340.4 372.2L342.1 370.8L343.7 369.5L345.4 368.1L347.1 366.8L348.7 365.4L350.4 364.1L352.2 362.8L353.9 361.5L355.6 360.2L357.3 358.9L359.1 357.6L360.9 356.4L362.6 355.1L364.4 353.9L366.2 352.6L368.0 351.4L369.8 350.2L371.6 349.0L373.4 347.7L375.3 346.5L377.1 345.4L378.9 344.2L380.8 343.0L382.6 341.8L384.5 340.7L386.4 339.5L388.3 338.3L390.1 337.2L392.0 336.1L393.9 334.9L395.8 333.8L397.7 332.7L399.6 331.6L401.6 330.5L403.5 329.4L405.4 328.3L407.3 327.2L409.3 326.1L411.2 325.1L413.2 324.0L415.1 323.0L417.1 321.9L419.0 320.9L421.0 319.9L422.9 318.9L424.9 317.9L426.9 316.9L428.8 315.9L430.8 314.9L432.8 313.9L434.7 313.0L436.7 312.0L438.7 311.1L440.7 310.1L442.7 309.2L444.6 308.2L446.6 307.3L448.6 306.4L450.6 305.5L452.6 304.5L454.6 303.6L456.5 302.7L458.5 301.8L460.5 300.9L462.5 300.0L464.5 299.2L466.5 298.3L468.5 297.4L470.5 296.5L472.5 295.6L474.5 294.8L476.5 293.9L478.4 293.0L480.4 292.2L482.4 291.3L484.4 290.4L486.4 289.6L488.4 288.7L490.4 287.9L492.4 287.0L494.4 286.2L496.4 285.4L498.3 284.5L500.3 283.7L502.3 282.9L504.3 282.1L506.3 281.3L508.3 280.5L510.3 279.7L512.2 278.9L514.2 278.2L516.2 277.4L518.2 276.6L520.1 275.8L522.1 275.0L524.1 274.3L526.0 273.5L528.0 272.7L530.0 271.9L531.9 271.2L533.9 270.4L535.9 269.6L537.8 268.9L539.8 268.1L541.7 267.3L543.7 266.6L545.6 265.8L547.5 265.1L549.5 264.3L551.4 263.5L553.3 262.8L555.3 262.0L557.2 261.3L559.1 260.5" fill="none" stroke="#800080" stroke-width="2.0" stroke-linejoin="round"/>
</g>
<g>
<path d="M122.50 250.30V619.50H560M122.50 250.30H560" fill="none" stroke="#000" stroke-width="1.75" stroke-linecap="square"/>
<path d="M200.12 619.50v-4.5M200.12 250.30v4.5M277.75 619.50v-8.0M277.75 250.30v8.0M355.38 619.50v-4.5M355.38 250.30v4.5M433.00 619.50v-8.0M433.00 250.30v8.0M510.62 619.50v-4.5M510.62 250.30v4.5M122.50 250.50h8.0M122.50 303.11h4.5M122.50 355.82h8.0M122.50 408.53h4.5M122.50 461.24h8.0M122.50 513.95h4.5M122.50 566.66h8.0" fill="none" stroke="#000" stroke-width="1.65"/>
</g>
<g>
<text x="122.5" y="644.2" font-size="21.3" text-anchor="middle">0</text>
<text x="277.8" y="644.2" font-size="21.3" text-anchor="middle">100</text>
<text x="433.0" y="644.2" font-size="21.3" text-anchor="middle">200</text>
<text x="114.8" y="256.3" font-size="21.3" text-anchor="end">0.00</text>
<text x="114.8" y="361.7" font-size="21.3" text-anchor="end">-0.02</text>
<text x="114.8" y="467.1" font-size="21.3" text-anchor="end">-0.04</text>
<text x="114.8" y="572.6" font-size="21.3" text-anchor="end">-0.06</text>
<text x="356" y="687" font-size="29.6" text-anchor="middle">T (K)</text>
<text transform="translate(31.7,500.7) rotate(-90)" font-size="29"><tspan font-size="25.5">Δ</tspan>c/c<tspan font-size="17.4" dy="11.2">300 K</tspan></text>
<text x="155" y="287.8" font-size="18">Ca(Fe<tspan font-size="10.4" dy="6.6">1-x</tspan><tspan dy="-6.6">Co</tspan><tspan font-size="10.4" dy="6.6">x</tspan><tspan dy="-6.6">)</tspan><tspan font-size="10.4" dy="6.6">2</tspan><tspan dy="-6.6">As</tspan><tspan font-size="10.4" dy="6.6">2</tspan></text>
<text x="155" y="314.7" font-size="18">as grown</text>
<text x="233.5" y="389.5" font-size="14.4">x=0</text>
<text x="156.5" y="523.9" font-size="14.6">x=0.059</text>
</g>
<g>
<path d="M261.9 386.7L274.0 388.7" stroke="#000" stroke-width="1.5" fill="none"/><path d="M283.9 390.3L272.6 391.5L273.5 385.6Z" fill="#000"/>
<path d="M214.6 519.3L226.8 521.6" stroke="#000" stroke-width="1.5" fill="none"/><path d="M236.6 523.5L225.2 524.4L226.4 518.5Z" fill="#000"/>
</g>
<g>
<path d="M470.3 443.9H504.8" stroke="#000000" stroke-width="3.0"/><text x="507.6" y="449.7" font-size="15.1" letter-spacing="-0.15">x=0</text>
<path d="M470.3 462.1H504.8" stroke="#ff0000" stroke-width="1.8"/><text x="507.6" y="467.9" font-size="15.1" letter-spacing="-0.15">x=0.011</text>
<path d="M470.3 480.3H504.8" stroke="#00ff00" stroke-width="1.8"/><text x="507.6" y="486.1" font-size="15.1" letter-spacing="-0.15">x=0.015</text>
<path d="M470.3 498.6H504.8" stroke="#800080" stroke-width="1.8"/><text x="507.6" y="504.4" font-size="15.1" letter-spacing="-0.15">x=0.022</text>
<path d="M470.3 516.8H504.8" stroke="#0000ff" stroke-width="1.8"/><text x="507.6" y="522.6" font-size="15.1" letter-spacing="-0.15">x=0.025</text>
<path d="M470.3 535.0H504.8" stroke="#00ffff" stroke-width="1.8"/><text x="507.6" y="540.8" font-size="15.1" letter-spacing="-0.15">x=0.028</text>
<path d="M470.3 553.2H504.8" stroke="#ff00ff" stroke-width="1.8"/><text x="507.6" y="559.0" font-size="15.1" letter-spacing="-0.15">x=0.033</text>
<path d="M470.3 571.4H504.8" stroke="#8000ff" stroke-width="1.8"/><text x="507.6" y="577.2" font-size="15.1" letter-spacing="-0.15">x=0.049</text>
<path d="M470.3 589.7H504.8" stroke="#808000" stroke-width="3.0"/><text x="507.6" y="595.5" font-size="15.1" letter-spacing="-0.15">x=0.059</text>
</g>
</svg>
</body></html>
